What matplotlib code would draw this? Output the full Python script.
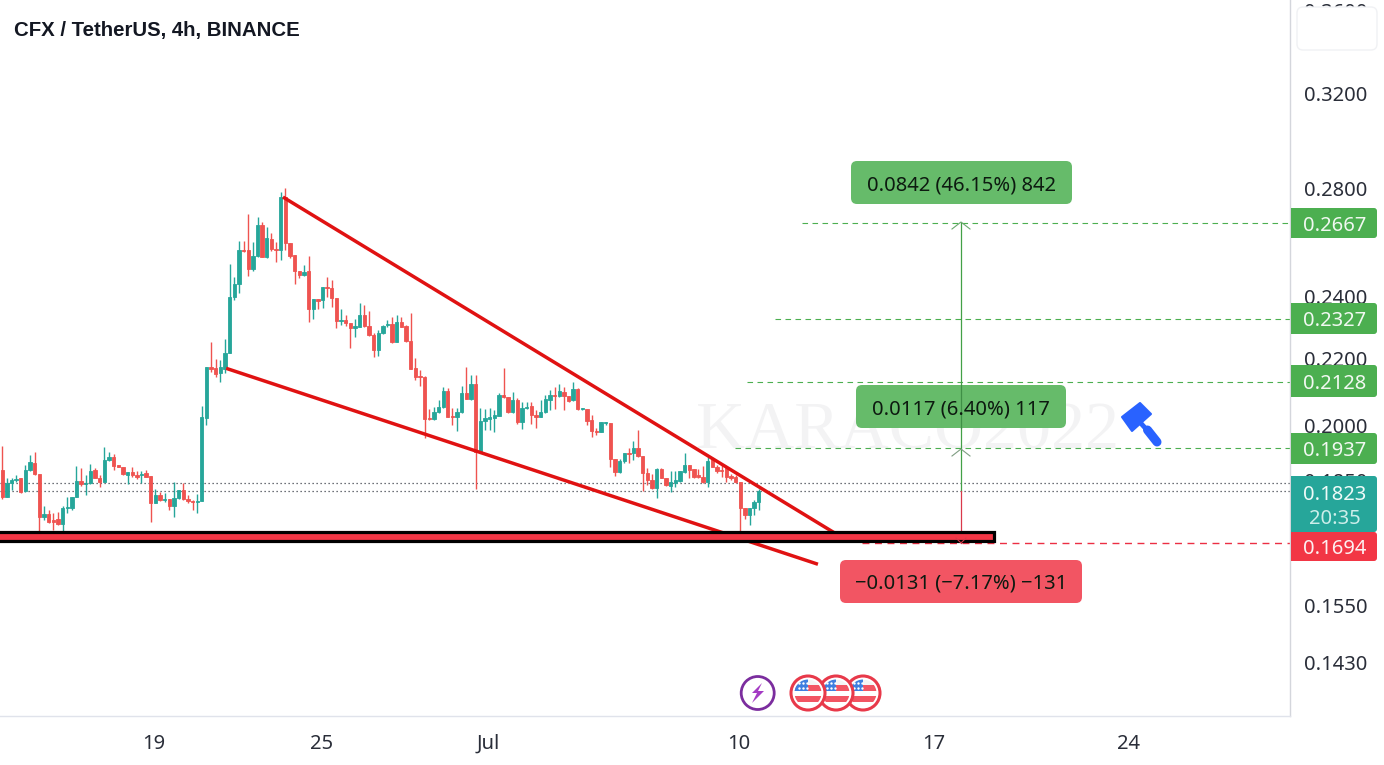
import matplotlib
matplotlib.use("Agg")
import matplotlib.pyplot as plt
from matplotlib.patches import Rectangle, FancyBboxPatch, Circle, Polygon
from matplotlib.ticker import FixedLocator, FixedFormatter, NullLocator

W, H = 1384, 765
PLOT_R, PLOT_B = 1290, 716
plt.rcParams['font.family'] = ['Noto Sans', 'DejaVu Sans']

FIRST_DAY = 13.55   # day of June of the first candle
BARS_PER_DAY = 6

opens = [.1877,.1807,.1843,.1851,.1856,.1823,.1877,.1896,.1867,.1757,.1764,.1749,.1752,.1739,.1779,.1779,.1807,.1848,.1841,.1843,
 .1877,.1856,.1846,.1904,.1912,.1891,.1885,.1864,.1872,.1864,.1864,.1869,.1861,.1792,.1812,.1799,.1802,.1784,.1805,.1825,
 .1802,.1797,.1794,.1797,.2021,.2172,.2169,.2154,.2166,.2216,.2399,.2444,.2565,.2565,.2497,.2543,.2657,.2540,.2606,.2569,
 .2565,.2765,.2591,.2547,.2489,.2475,.2489,.2358,.2392,.2389,.2434,.2430,.2396,.2319,.2322,.2312,.2296,.2299,.2339,.2303,
 .2274,.2225,.2280,.2306,.2309,.2251,.2316,.2303,.2254,.2169,.2145,.2142,.2021,.2018,.2038,.2053,.2100,.2026,.2023,.2038,
 .2094,.2076,.2121,.1926,.2012,.2018,.2021,.2026,.2088,.2082,.2038,.2073,.2009,.2050,.2056,.2029,.2023,.2038,.2073,.2088,
 .2085,.2097,.2085,.2073,.2106,.2047,.2047,.2015,.1984,.1981,.2006,.2006,.1907,.1872,.1901,.1923,.1923,.1937,.1915,.1869,
 .1851,.1830,.1880,.1856,.1835,.1843,.1848,.1872,.1891,.1880,.1864,.1859,.1846,.1907,.1885,.1877,.1882,.1861,.1859,.1846,
 .1779,.1762,.1779,.1794]
highs = [.1942,.1856,.1856,.1864,.1856,.1891,.1918,.1926,.1867,.1784,.1774,.1767,.1769,.1784,.1807,.1807,.1888,.1882,.1864,.1893,
 .1882,.1864,.1940,.1926,.1920,.1891,.1885,.1872,.1885,.1874,.1874,.1877,.1861,.1828,.1820,.1817,.1802,.1846,.1825,.1843,
 .1812,.1799,.1815,.2056,.2172,.2251,.2197,.2194,.2261,.2515,.2468,.2598,.2598,.2699,.2594,.2687,.2668,.2650,.2628,.2594,
 .2785,.2800,.2591,.2547,.2489,.2511,.2543,.2392,.2392,.2434,.2468,.2458,.2396,.2358,.2339,.2312,.2325,.2379,.2372,.2352,
 .2280,.2290,.2306,.2322,.2332,.2339,.2332,.2306,.2345,.2200,.2163,.2145,.2047,.2053,.2073,.2112,.2109,.2050,.2050,.2115,
 .2172,.2148,.2148,.2050,.2047,.2050,.2044,.2094,.2169,.2082,.2097,.2079,.2067,.2067,.2067,.2044,.2073,.2088,.2103,.2112,
 .2121,.2112,.2085,.2127,.2109,.2050,.2047,.2029,.1993,.2009,.2009,.2006,.1907,.1907,.1923,.1937,.1956,.1987,.1915,.1882,
 .1867,.1882,.1882,.1856,.1874,.1874,.1874,.1923,.1891,.1880,.1880,.1888,.1912,.1912,.1891,.1891,.1885,.1867,.1864,.1846,
 .1779,.1779,.1799,.1828]
lows = [.1802,.1807,.1825,.1846,.1817,.1820,.1874,.1864,.1717,.1749,.1742,.1724,.1737,.1717,.1767,.1774,.1807,.1835,.1812,.1841,
 .1856,.1833,.1846,.1901,.1877,.1885,.1864,.1841,.1859,.1854,.1843,.1859,.1744,.1792,.1797,.1794,.1774,.1757,.1802,.1799,
 .1792,.1774,.1767,.1797,.2001,.2157,.2142,.2127,.2154,.2216,.2389,.2413,.2558,.2472,.2489,.2540,.2540,.2536,.2561,.2522,
 .2529,.2565,.2536,.2444,.2465,.2472,.2316,.2325,.2358,.2362,.2399,.2365,.2296,.2306,.2303,.2231,.2267,.2299,.2299,.2270,
 .2203,.2206,.2277,.2299,.2248,.2251,.2299,.2251,.2166,.2133,.2115,.1965,.2015,.2015,.2035,.2050,.2023,.2001,.1984,.2035,
 .2076,.2073,.1828,.1923,.1987,.1987,.1981,.2026,.2079,.2035,.2035,.2004,.1990,.2047,.2004,.1993,.2023,.2035,.2044,.2047,
 .2082,.2044,.2067,.2070,.2044,.2044,.2001,.1967,.1973,.1981,.2001,.1885,.1861,.1869,.1896,.1896,.1904,.1912,.1823,.1838,
 .1828,.1805,.1856,.1835,.1820,.1833,.1846,.1869,.1856,.1856,.1856,.1843,.1833,.1885,.1869,.1859,.1846,.1851,.1843,.1722,
 .1752,.1737,.1762,.1774]
closes = [.1807,.1843,.1851,.1854,.1820,.1877,.1899,.1867,.1757,.1764,.1744,.1744,.1739,.1779,.1782,.1807,.1848,.1841,.1843,.1874,
 .1856,.1846,.1904,.1912,.1888,.1885,.1867,.1872,.1864,.1859,.1867,.1859,.1792,.1812,.1799,.1802,.1784,.1805,.1825,.1802,
 .1797,.1794,.1797,.2023,.2172,.2166,.2151,.2172,.2216,.2399,.2444,.2565,.2561,.2497,.2543,.2657,.2540,.2609,.2569,.2565,
 .2765,.2591,.2543,.2489,.2475,.2486,.2358,.2392,.2386,.2434,.2430,.2396,.2319,.2322,.2312,.2296,.2303,.2339,.2303,.2274,
 .2225,.2280,.2303,.2309,.2251,.2316,.2299,.2254,.2166,.2142,.2142,.2018,.2018,.2038,.2053,.2100,.2023,.2023,.2038,.2094,
 .2076,.2121,.1926,.2012,.2021,.2023,.2029,.2088,.2082,.2038,.2073,.2009,.2050,.2053,.2029,.2023,.2038,.2076,.2088,.2085,
 .2100,.2085,.2070,.2106,.2047,.2050,.2012,.1984,.1981,.2009,.2009,.1907,.1872,.1901,.1923,.1920,.1937,.1915,.1869,.1851,
 .1830,.1880,.1856,.1838,.1846,.1851,.1874,.1891,.1877,.1859,.1859,.1846,.1901,.1885,.1874,.1874,.1859,.1856,.1846,.1779,
 .1762,.1779,.1794,.1823]

y_ticks = [.36,.32,.28,.24,.22,.20,.185,.155,.143]
y_labels = ['0.3600','0.3200','0.2800','0.2400','0.2200','0.2000','0.1850','0.1550','0.1430']
x_ticks = [19,25,31,40,47,54]
x_labels = ['19','25','Jul','10','17','24']

green_levels = [.2667,.2327,.2128,.1937]
green_starts = [42.27,41.30,40.29,39.86]
red_level, red_start = .1694, 44.42
price_lines = [.1843,.1823]
arrow_day = 47.98
arrow_prices = [.2667,.1937,.1823,.1694]
upper_days, upper_prices = [23.63,43.45], [.2765,.1717]
lower_days, lower_prices = [21.59,42.84], [.2169,.1643]
zone_end_day, zone_low, zone_high = 49.16, .1698, .1719

GREEN, RED = '#26a69a', '#ef5350'
LBL_GREEN, LBL_RED = '#4caf50', '#f23645'

fig = plt.figure(figsize=(W/100, H/100), dpi=100, facecolor='white')

def pixel_axes(z):
    a = fig.add_axes([0,0,1,1], zorder=z)
    a.set_xlim(0,W); a.set_ylim(H,0); a.axis('off'); a.patch.set_alpha(0)
    return a

back = pixel_axes(0)
back.text(908, 432, 'KARACO2022', family='Liberation Serif', fontsize=49, color='#f3f3f4',
          ha='center', va='center')

ax = fig.add_axes([0, 1-PLOT_B/H, PLOT_R/W, PLOT_B/H], zorder=1)
ax.patch.set_alpha(0)
ax.set_yscale('log')
ax.set_xlim(13.47, 59.79)
ax.set_ylim(.1325, .3656)
for s in ('top','left'):
    ax.spines[s].set_visible(False)
ax.spines['right'].set_color('#d4d6dc'); ax.spines['bottom'].set_color('#e0e3eb')
ax.spines['right'].set_linewidth(1.0); ax.spines['bottom'].set_linewidth(1.0)
ax.yaxis.tick_right()
ax.yaxis.set_major_locator(FixedLocator(y_ticks))
ax.yaxis.set_major_formatter(FixedFormatter(y_labels))
ax.yaxis.set_minor_locator(NullLocator())
ax.xaxis.set_major_locator(FixedLocator(x_ticks))
ax.xaxis.set_major_formatter(FixedFormatter(x_labels))
ax.tick_params(axis='y', length=0, pad=10, labelsize=14.5, labelcolor='#2a2e39')
ax.tick_params(axis='x', length=0, pad=13, labelsize=14.5, labelcolor='#2a2e39')

days = [FIRST_DAY + i/BARS_PER_DAY for i in range(len(opens))]
cols = [GREEN if c >= o else RED for o, c in zip(opens, closes)]
ax.vlines(days, lows, highs, colors=cols, linewidth=1.0, zorder=3)
ax.bar(days, [abs(c-o) for o, c in zip(opens, closes)], bottom=[min(o,c) for o, c in zip(opens, closes)],
       width=0.72/BARS_PER_DAY, color=cols, edgecolor=cols, linewidth=0.6, zorder=4)

for p in price_lines:
    ax.plot(ax.get_xlim(), [p,p], color='#40454f', lw=0.9, ls=(0,(1,2.2)), zorder=2)
for p, d in zip(green_levels, green_starts):
    ax.plot([d, 59.79], [p,p], color='#4caf50', lw=0.8, ls=(0,(5,4)), zorder=2)
ax.plot([red_start, 59.79], [red_level]*2, color='#ec2f44', lw=1.0, ls=(0,(5,4)), zorder=2)

ax.plot([arrow_day]*2, [arrow_prices[0], arrow_prices[2]], color='#43a047', lw=0.9, zorder=5)
ax.plot([arrow_day]*2, [arrow_prices[2], arrow_prices[3]], color='#d9394a', lw=0.9, zorder=5)

ax.plot(upper_days, upper_prices, color='#e01212', lw=2.5, zorder=6, solid_capstyle='butt')
ax.plot(lower_days, lower_prices, color='#e01212', lw=2.5, zorder=6, solid_capstyle='butt')
ax.add_patch(Rectangle((13.0, zone_low), zone_end_day-13.0, zone_high-zone_low,
                       facecolor='#f23645', edgecolor='black', lw=2.3, zorder=7))

front = pixel_axes(2)

def chevron(x, y, up, color):
    s = 7 if up else -5
    front.plot([x-9 if up else x-5, x, x+9 if up else x+5], [y+s, y, y+s], color=color, lw=0.8, solid_joinstyle='miter')

chevron(961, 222, True, '#6aa86d')
chevron(961, 449, True, '#7f9d82')
chevron(961, 543, False, '#d9394a')

def label(x0, y0, x1, y1, text, fc):
    front.add_patch(FancyBboxPatch((x0+5, y0+5), x1-x0-10, y1-y0-10, boxstyle='round,pad=5,rounding_size=6',
                                   fc=fc, ec='none', mutation_aspect=1))
    front.text((x0+x1)/2, (y0+y1)/2, text, ha='center', va='center_baseline', fontsize=14.5, color='#0d1a10')

label(851, 161, 1072, 204, '0.0842 (46.15%) 842', '#66bb6a')
label(856, 385, 1066, 428, '0.0117 (6.40%) 117', '#66bb6a')
label(840, 560, 1082, 603, '\u22120.0131 (\u22127.17%) \u2212131', '#f25563')
# vertical arrow line visible over the middle label
front.plot([961,961],[385,428], color='#3f8f46', lw=0.9)

def price_box(y0, y1, fc):
    front.add_patch(Rectangle((1291, y0), 82, y1-y0, fc=fc, ec='none'))
    front.add_patch(FancyBboxPatch((1295, y0+4), 78, y1-y0-8, boxstyle='round,pad=4,rounding_size=3', fc=fc, ec='none'))

for y0, y1, t in [(208,238,'0.2667'),(303,334,'0.2327'),(365,397,'0.2128'),(433,464,'0.1937')]:
    price_box(y0, y1, LBL_GREEN)
    front.text(1335, (y0+y1)/2, t, ha='center', va='center_baseline', fontsize=14.5, color='#f1f8f1')
price_box(476, 532, GREEN)
front.text(1335, 492, '0.1823', ha='center', va='center_baseline', fontsize=14.5, color='#eefaf8')
front.text(1335, 517, '20:35', ha='center', va='center_baseline', fontsize=14.5, color='#cdeeea')
price_box(532, 561, LBL_RED)
front.text(1335, 546, '0.1694', ha='center', va='center_baseline', fontsize=14.5, color='#fdf0f1')

# button in the price scale corner
front.add_patch(FancyBboxPatch((1302, 12), 70, 33, boxstyle='round,pad=5,rounding_size=6',
                               fc='white', ec='#f0f1f4', lw=1))

front.text(14, 28, 'CFX / TetherUS, 4h, BINANCE', ha='left', va='center_baseline', fontsize=14.65,
           family=['Liberation Sans', 'DejaVu Sans'], fontweight='bold', color='#131722')

# hammer drawing tool
blue = '#2962ff'
front.add_patch(Polygon([(1122,417),(1140,403),(1151,414),(1132,431)], fc=blue, ec=blue, lw=1.5, joinstyle='round'))
front.plot([1137,1147],[419,430], color=blue, lw=3.5, solid_capstyle='butt')
front.plot([1147.5,1157],[430,442], color=blue, lw=6.5, solid_capstyle='round')

# event markers
front.add_patch(Circle((757.7,693), 16.5, fc='white', ec='#7b2d9e', lw=2))
front.add_patch(Polygon([(762,683),(752,693),(757,693),(752,703),(764,691),(758,691)], fc='#a43bc4', ec='none'))
for i, cx in enumerate([863,836,808]):
    z = 3+i
    front.add_patch(Circle((cx,693), 17, fc='white', ec='#e8394a', lw=2.2, zorder=z))
    clip = Circle((cx,693), 13.5, transform=front.transData)
    for y0, h, c in [(680,5,'#f4f4f4'),(685,6,'#f25563'),(691,5,'#ffffff'),(696,6,'#f25563')]:
        r = Rectangle((cx-14,y0), 28, h, fc=c, ec='none', zorder=z+.1); front.add_patch(r); r.set_clip_path(clip)
    r = Rectangle((cx-14,679), 14, 12, fc='#3f7fe0', ec='none', zorder=z+.2); front.add_patch(r); r.set_clip_path(clip)
    front.scatter([cx-9,cx-5,cx-1,cx-9,cx-5,cx-1],[683,683,683,688,688,688], s=3, c='white', zorder=z+.3, linewidths=0)

fig.savefig('out.png', dpi=100, facecolor='white')
